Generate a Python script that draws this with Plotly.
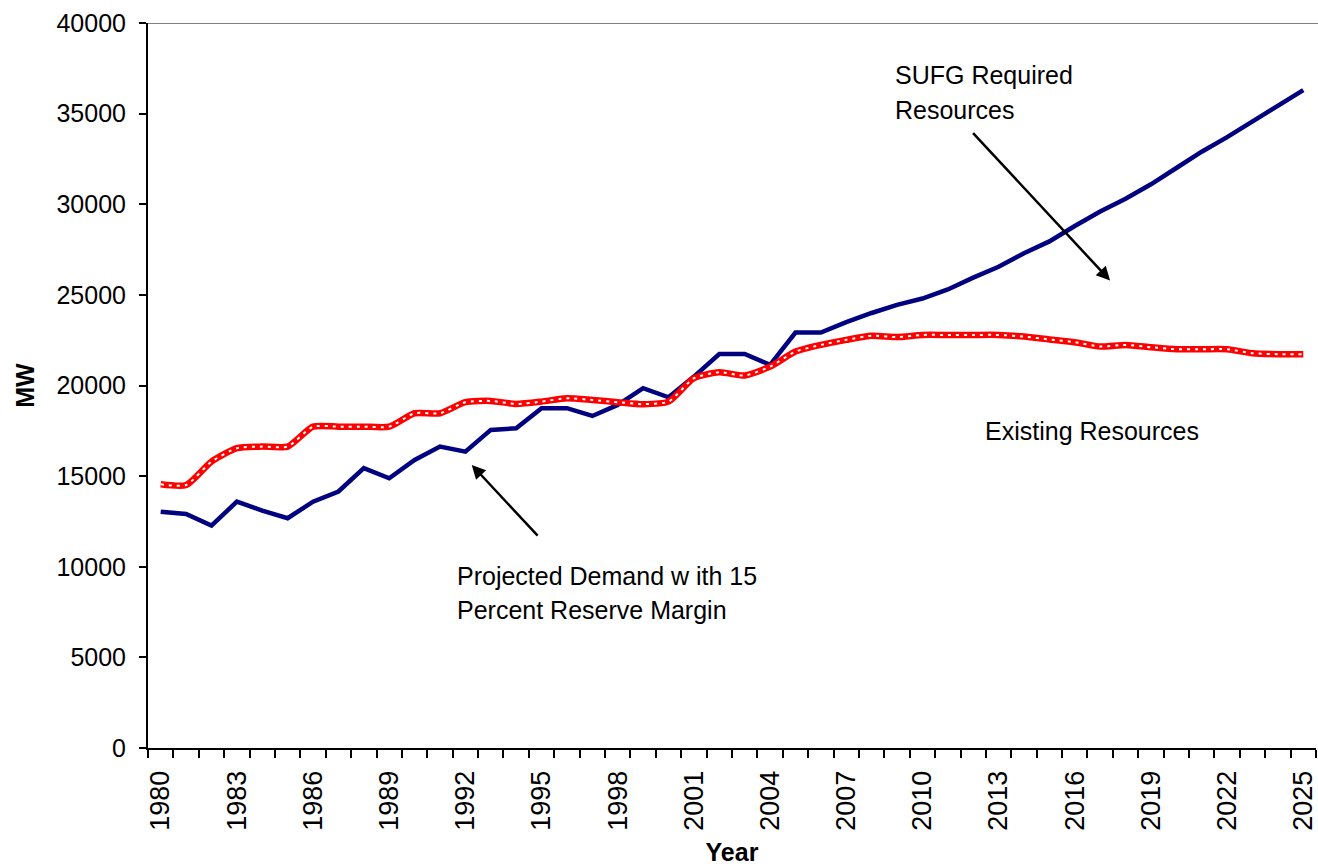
import plotly.graph_objects as go

years = list(range(1980, 2026))

required_mw = [
    13040, 12910, 12270, 13590, 13100, 12680, 13590, 14150, 15440, 14880,
    15890, 16630, 16350, 17550, 17640, 18750, 18750, 18320, 18930, 19850,
    19350, 20490, 21740, 21740, 21140, 22920, 22920, 23500, 24000, 24450,
    24800, 25300, 25950, 26550, 27300, 27950, 28800, 29600, 30300, 31100,
    32000, 32900, 33700, 34550, 35450, 36300,
]

existing_mw = [
    14550, 14510, 15800, 16540, 16630, 16630, 17730, 17730, 17730, 17730,
    18470, 18470, 19080, 19150, 18980, 19110, 19300, 19200, 19080, 18970,
    19110, 20400, 20730, 20550, 21040, 21870, 22240, 22520, 22750, 22670,
    22790, 22790, 22790, 22790, 22700, 22540, 22390, 22150, 22240, 22110,
    22000, 22000, 22000, 21780, 21730, 21730,
]

label_years = list(range(1980, 2026, 3))
y_ticks = list(range(0, 40001, 5000))

FONT = "Liberation Sans, Arial, sans-serif"
FS = 25

fig = go.Figure()

fig.add_trace(go.Scatter(
    x=years, y=required_mw, mode="lines",
    line=dict(color="#000080", width=4.5),
    name="SUFG Required Resources", hoverinfo="x+y",
))
fig.add_trace(go.Scatter(
    x=years, y=existing_mw, mode="lines",
    line=dict(color="#FF0000", width=6.5, shape="spline", smoothing=0.6),
    name="Existing Resources", hoverinfo="x+y",
))
fig.add_trace(go.Scatter(
    x=years, y=existing_mw, mode="lines",
    line=dict(color="white", width=2, shape="spline", smoothing=0.6, dash="3px,5px"),
    showlegend=False, hoverinfo="skip",
))

fig.update_layout(
    width=1318, height=866,
    margin=dict(l=148, r=2, t=23, b=118),
    paper_bgcolor="white", plot_bgcolor="white",
    showlegend=False,
    font=dict(family=FONT, size=FS, color="black"),
)

fig.update_xaxes(
    range=[1979.5, 2025.5], automargin=False,
    tickmode="array", tickvals=label_years, ticktext=[str(y) for y in label_years],
    tickangle=-90, ticks="", tickfont=dict(size=27, family=FONT),
    ticklabelstandoff=10, ticklabeloverflow="allow",
    showline=True, linecolor="black", linewidth=2,
    showgrid=False, zeroline=False,
    minor=dict(tickmode="linear", tick0=1979.5, dtick=1, ticks="outside",
               ticklen=8, tickwidth=2, tickcolor="black", showgrid=False),
    title=dict(text="<b>Year</b>", font=dict(size=FS, family=FONT), standoff=20),
)
fig.update_yaxes(
    range=[0, 40000], automargin=False,
    tickmode="array", tickvals=y_ticks, ticktext=[str(v) for v in y_ticks],
    ticks="outside", ticklen=7, tickwidth=2, tickcolor="black",
    tickfont=dict(size=FS, family=FONT), ticklabelstandoff=8,
    showline=True, linecolor="black", linewidth=2,
    showgrid=False, zeroline=False,
    title=dict(text="<b>MW</b>", font=dict(size=FS, family=FONT), standoff=15),
)

# top border line
fig.add_shape(type="line", xref="paper", yref="y", x0=0, x1=1.01, y0=40000, y1=40000,
              line=dict(color="#808080", width=2))

# text labels
texts = [
    ("SUFG Required", 2008.84, 37150),
    ("Resources", 2008.84, 35200),
    ("Projected Demand w ith 15", 1991.59, 9500),
    ("Percent Reserve Margin", 1991.59, 7600),
    ("Existing Resources", 2012.39, 17500),
]
for t, xx, yy in texts:
    fig.add_annotation(text=t, x=xx, y=yy, xref="x", yref="y",
                       xanchor="left", yanchor="middle", showarrow=False,
                       font=dict(size=FS, family=FONT, color="black"))

# arrows
arrows = [
    (2017.39, 25790, 2011.94, 34010),
    (1992.25, 15620, 1994.90, 11630),
]
for hx, hy, tx, ty in arrows:
    fig.add_annotation(text="", x=hx, y=hy, ax=tx, ay=ty,
                       xref="x", yref="y", axref="x", ayref="y",
                       showarrow=True, arrowhead=2, arrowsize=1.1,
                       arrowwidth=2.5, arrowcolor="black")

fig.write_html(
    "out.html",
    config={"displayModeBar": False},
    post_script="document.body.style.margin='0';document.body.style.padding='0';",
)
